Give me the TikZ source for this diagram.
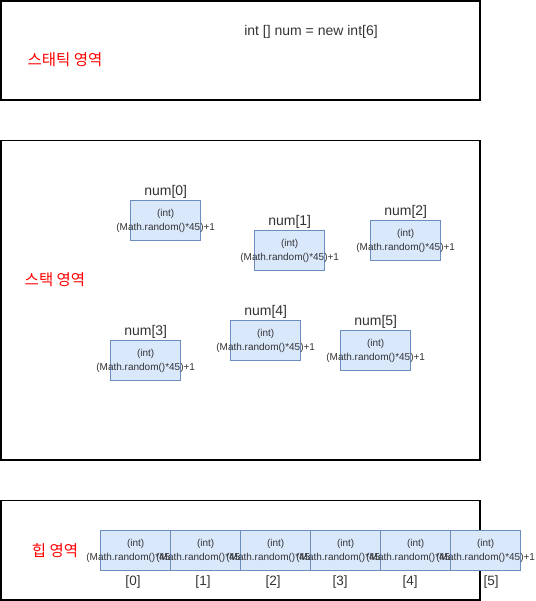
\documentclass[tikz,border=0pt]{standalone}
\usepackage{fontspec}
\setmainfont{Liberation Sans}
\newfontfamily\krfont{Noto Sans CJK KR}
\usetikzlibrary{positioning}
\definecolor{cellfill}{HTML}{DAE8FC}
\definecolor{cellline}{HTML}{6C8EBF}
\definecolor{txtgray}{HTML}{333333}
% value text may run past the cell, as in the drawing
\newcommand{\randval}{(int)\\\makebox[0pt]{(Math.random()*45)+1}}
\begin{document}
\begin{tikzpicture}[
    x=1pt, y=-1pt,
    area/.style={draw=black, line width=1.2pt},
    cell/.style={draw=cellline, fill=cellfill, line width=0.9pt,
                 minimum width=70pt, minimum height=40pt, inner sep=0pt,
                 align=center, text=txtgray, font=\fontsize{10}{14}\selectfont},
    varlabel/.style={text=txtgray, inner sep=0pt, font=\fontsize{14}{16}\selectfont},
    idx/.style={text=txtgray, inner sep=0pt, font=\fontsize{13.5}{16}\selectfont},
    zone/.style={text=red, inner sep=0pt, font=\krfont\fontsize{15.5}{18}\selectfont},
  ]
    \useasboundingbox (0,0) rectangle (535,601);

    % Areas
    \draw[area] (1,1)     rectangle (480,100);
    \draw[area] (1,140.5) rectangle (480,460);
    \draw[area] (1,500.7) rectangle (480,600);

    \node[zone] (static) at (65,60)  {스태틱 영역};
    \node[zone] (stack)  at (55,280) {스택 영역};
    \node[zone] (heap)   at (55,551) {힙 영역};

    \node[varlabel] (decl) at (311,32) {int [] num = new int[6]};

    % Stack variables
    \node[cell] (n0) at (165.7,220.7) {\randval};
    \node[cell] (n1) at (289.7,250.7) {\randval};
    \node[cell] (n2) at (405.7,240.7) {\randval};
    \node[cell] (n3) at (145.7,360.7) {\randval};
    \node[cell] (n4) at (265.7,340.7) {\randval};
    \node[cell] (n5) at (375.7,350.7) {\randval};

    \node[varlabel, above=1.5pt of n0] (t0) {num[0]};
    \node[varlabel, above=1.5pt of n1] (t1) {num[1]};
    \node[varlabel, above=1.5pt of n2] (t2) {num[2]};
    \node[varlabel, above=1.5pt of n3] (t3) {num[3]};
    \node[varlabel, above=1.5pt of n4] (t4) {num[4]};
    \node[varlabel, above=1.5pt of n5] (t5) {num[5]};

    % Heap array
    \node[cell] (h0) at (135.7,550.7) {\randval};
    \node[cell] (h1) at (205.7,550.7) {\randval};
    \node[cell] (h2) at (275.7,550.7) {\randval};
    \node[cell] (h3) at (345.7,550.7) {\randval};
    \node[cell] (h4) at (415.7,550.7) {\randval};
    \node[cell] (h5) at (485.7,550.7) {\randval};

    \node[idx] (i0) at (133,582) {[0]};
    \node[idx] (i1) at (203,582) {[1]};
    \node[idx] (i2) at (273,582) {[2]};
    \node[idx] (i3) at (340,582) {[3]};
    \node[idx] (i4) at (410,582) {[4]};
    \node[idx] (i5) at (491,582) {[5]};
  \end{tikzpicture}
\end{document}
